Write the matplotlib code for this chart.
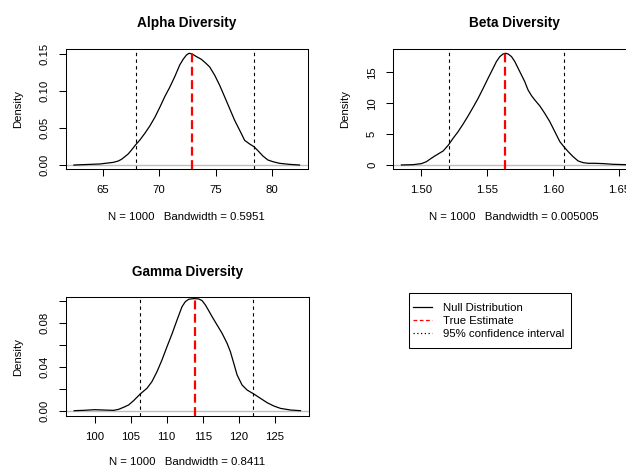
import matplotlib
matplotlib.use("Agg")
import matplotlib.pyplot as plt
from matplotlib.lines import Line2D
from matplotlib.patches import Rectangle

plt.rcParams['font.family'] = ['Liberation Sans', 'DejaVu Sans']

# density curves
alpha_x = [62.43, 64.73, 65.92, 66.36, 66.65, 66.95, 67.24, 67.54, 67.89, 68.28, 68.72,
           69.16, 69.61, 70.05, 70.49, 70.93, 71.38, 71.82, 72.12, 72.41, 72.65, 72.91,
           73.3, 73.74, 74.18, 74.48, 74.92, 75.36, 75.81, 76.25, 76.69, 77.14, 77.58,
           78.02, 78.40, 78.76, 79.2, 79.64, 80.09, 80.68, 81.56, 82.45]
alpha_y = [0.0, 0.0014, 0.0036, 0.0054, 0.0077, 0.0113, 0.0149, 0.0203, 0.0271, 0.0339,
           0.0429, 0.0528, 0.0646, 0.0782, 0.0926, 0.1053, 0.1198, 0.1356, 0.1432, 0.149,
           0.1514, 0.1505, 0.1469, 0.1432, 0.1373, 0.1328, 0.1217, 0.1081, 0.0922, 0.0764,
           0.0606, 0.047, 0.0334, 0.0285, 0.0249, 0.0194, 0.0122, 0.0068, 0.0045, 0.0023,
           0.0009, 0.0]
beta_x = [1.4854, 1.4942, 1.5005, 1.5043, 1.5068, 1.5098, 1.5131, 1.5169, 1.5209, 1.5244,
          1.5282, 1.5320, 1.5357, 1.5395, 1.5433, 1.5471, 1.5508, 1.5546, 1.5571, 1.5597,
          1.5622, 1.5639, 1.5659, 1.5685, 1.5710, 1.5735, 1.5760, 1.5785, 1.5810, 1.5836,
          1.5861, 1.5899, 1.5936, 1.5974, 1.6012, 1.6050, 1.6080, 1.6113, 1.6150, 1.6188,
          1.6226, 1.6264, 1.6314, 1.6377, 1.6452, 1.6550, 1.6580]
beta_y = [0.0, 0.05, 0.22, 0.54, 0.92, 1.35, 1.78, 2.27, 3.24, 4.32, 5.40, 6.64, 7.93,
          9.34, 10.79, 12.41, 14.03, 15.65, 16.73, 17.54, 17.97, 18.08, 17.97, 17.54,
          16.73, 15.65, 14.57, 13.49, 12.14, 11.22, 10.52, 9.55, 8.36, 7.02, 5.40, 3.78,
          2.97, 2.16, 1.35, 0.65, 0.38, 0.27, 0.27, 0.22, 0.11, 0.05, 0.0]
gamma_x = [97.18, 98.47, 100.0, 101.25, 102.64, 103.33, 104.03, 104.72, 105.42, 106.34,
           107.27, 107.96, 108.66, 109.35, 110.05, 110.74, 111.44, 112.13, 112.59, 113.06,
           113.75, 114.44, 114.91, 115.37, 115.83, 116.30, 116.99, 117.69, 118.38, 118.84,
           119.31, 119.77, 120.46, 121.16, 122.08, 123.01, 123.94, 124.86, 125.79, 127.18,
           128.56]
gamma_y = [0.0, 0.0003, 0.0009, 0.0006, 0.0003, 0.0012, 0.0031, 0.0052, 0.0092, 0.0153,
           0.0205, 0.0266, 0.0357, 0.0464, 0.0586, 0.0702, 0.0830, 0.0952, 0.0998, 0.1020,
           0.1026, 0.1023, 0.1008, 0.0968, 0.0916, 0.0861, 0.0785, 0.0708, 0.0617, 0.0540,
           0.0433, 0.0327, 0.0235, 0.0189, 0.0153, 0.0113, 0.0073, 0.0043, 0.0021, 0.0006,
           0.0]

alpha_true = 72.9
alpha_ci = [67.9, 78.4]
beta_true = 1.5635
beta_ci = [1.5212, 1.6085]
gamma_true = 114.0
gamma_ci = [106.3, 122.0]

titles = ["Alpha Diversity", "Beta Diversity", "Gamma Diversity"]
xlabels = ["N = 1000   Bandwidth = 0.5951",
           "N = 1000   Bandwidth = 0.005005",
           "N = 1000   Bandwidth = 0.8411"]
alpha_xticks = [65, 70, 75, 80]
alpha_yticks = [0.00, 0.05, 0.10, 0.15]
alpha_ylabels = ["0.00", "0.05", "0.10", "0.15"]
beta_xticks = [1.50, 1.55, 1.60, 1.65]
beta_xlabels = ["1.50", "1.55", "1.60", "1.65"]
beta_yticks = [0, 5, 10, 15]
beta_ylabels = ["0", "5", "10", "15"]
gamma_xticks = [100, 105, 110, 115, 120, 125]
gamma_yticks = [0.00, 0.02, 0.04, 0.06, 0.08, 0.10]
gamma_ylabels = ["0.00", "", "0.04", "", "0.08", ""]
legend_labels = ["Null Distribution", "True Estimate", "95% confidence interval"]

W, H = 626, 469
fig = plt.figure(figsize=(W / 100, H / 100), dpi=100)

def px_axes(left, top, w, h):
    return fig.add_axes([left / W, 1 - (top + h) / H, w / W, h / H])

ax_a = px_axes(65.7, 49, 242.3, 120.3)
ax_b = px_axes(393, 49, 242.3, 120.3)
ax_g = px_axes(65.7, 297.3, 243, 118.4)

panels = [
    (ax_a, alpha_x, alpha_y, alpha_true, alpha_ci, (61.7, 83.2), (-0.0058, 0.1572),
     alpha_xticks, [str(v) for v in alpha_xticks], alpha_yticks, alpha_ylabels),
    (ax_b, beta_x, beta_y, beta_true, beta_ci, (1.479, 1.662), (-0.70, 18.77),
     beta_xticks, beta_xlabels, beta_yticks, beta_ylabels),
    (ax_g, gamma_x, gamma_y, gamma_true, gamma_ci, (96.0, 129.7), (-0.0046, 0.1038),
     gamma_xticks, [str(v) for v in gamma_xticks], gamma_yticks, gamma_ylabels),
]

fs = 8.2
for i, (ax, xs, ys, tv, ci, xl, yl, xt, xtl, yt, ytl) in enumerate(panels):
    ax.axhline(0, color="#bebebe", lw=1.0, zorder=1)
    ax.plot(xs, ys, color="black", lw=0.9, zorder=3)
    for c in ci:
        ax.axvline(c, color="black", lw=0.8, ls=(0, (3, 3)), zorder=2)
    ax.axvline(tv, color="red", lw=1.6, ls=(0, (4, 2)), zorder=4)
    ax.set_xlim(*xl)
    ax.set_ylim(*yl)
    ax.set_xticks(xt)
    ax.set_xticklabels(xtl)
    ax.set_yticks(yt)
    ax.set_yticklabels(ytl, rotation=90, va="center")
    ax.tick_params(length=5, width=0.75, pad=6.5, labelsize=fs, color="black")
    for s in ax.spines.values():
        s.set_linewidth(0.75)
    ax.set_xlabel(xlabels[i], fontsize=fs)
    ax.xaxis.set_label_coords(0.5, -47.4 / 120.3)
    ax.xaxis.label.set_va("center")
    ax.set_ylabel("Density", fontsize=fs)
    ax.yaxis.set_label_coords(-47.5 / 242.3, 0.5)
    ax.yaxis.label.set_va("center")
    ax.text(0.5, 1 + 26 / 120.3, titles[i], transform=ax.transAxes, ha="center",
            va="center", fontsize=9.8, fontweight="bold")

# legend box (R style, square frame)
fig.add_artist(Rectangle((409.3 / W, 1 - 348 / H), 161.4 / W, 55 / H,
                         transform=fig.transFigure, fill=False, edgecolor="black", lw=0.75))
handles = [Line2D([], [], color="black", lw=0.9),
           Line2D([], [], color="red", lw=0.9, ls=(0, (3, 2))),
           Line2D([], [], color="black", lw=0.9, ls=(0, (1, 2)))]
fig.legend(handles, legend_labels, loc="upper left",
           bbox_to_anchor=(412.7 / W, 1 - 303.3 / H), fontsize=fs, frameon=False,
           borderpad=0, labelspacing=0.27, handlelength=1.67,
           handletextpad=1.0, borderaxespad=0)

fig.savefig("out.png", dpi=100)
